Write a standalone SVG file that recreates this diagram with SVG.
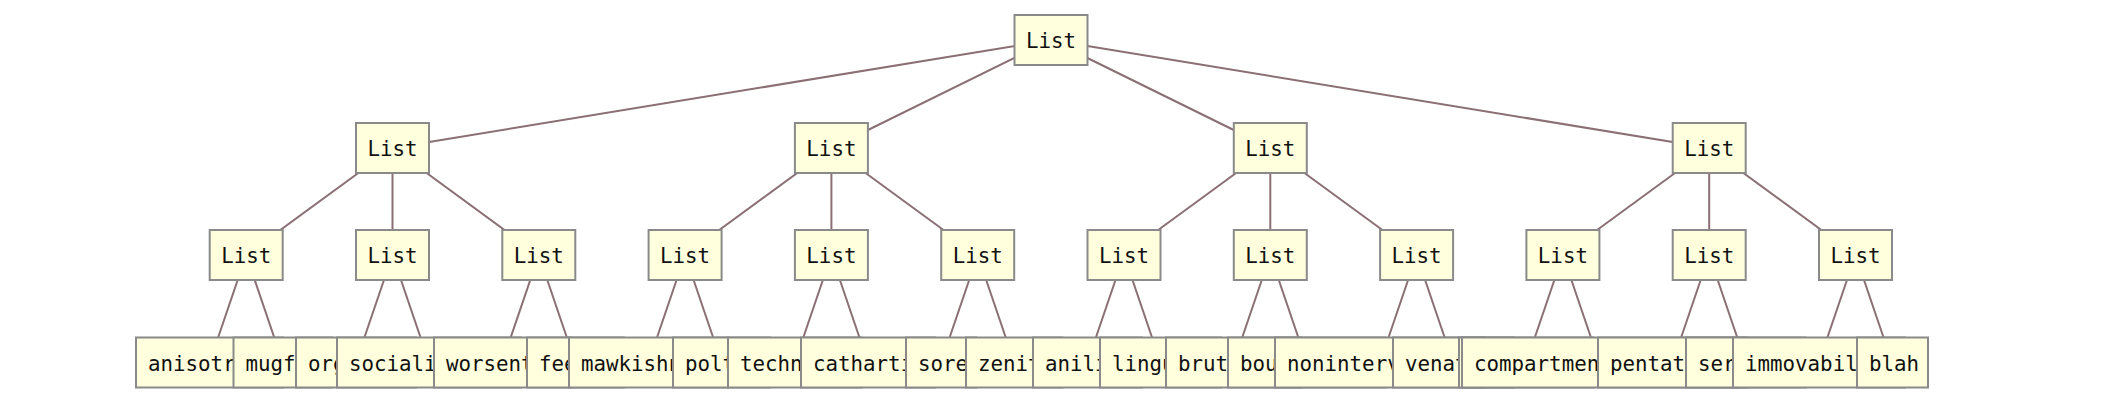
<svg xmlns="http://www.w3.org/2000/svg" width="2106" height="404" viewBox="0 0 2106 404">
<style>
.n rect{fill:#ffffdd;stroke:#8a8a8a;stroke-width:2}
.n text{font-family:"DejaVu Sans Mono","Liberation Mono",monospace;font-size:20.8px;fill:#111}
.c{text-anchor:middle}
#edges line{stroke:#8a6f74;stroke-width:2}
</style>
<rect width="2106" height="404" fill="#ffffff"/>
<g id="edges">
<line x1="1050.85" y1="40" x2="392.5" y2="148"/>
<line x1="1050.85" y1="40" x2="831.4" y2="148"/>
<line x1="1050.85" y1="40" x2="1270.3" y2="148"/>
<line x1="1050.85" y1="40" x2="1709.2" y2="148"/>
<line x1="392.5" y1="148" x2="246.2" y2="255"/>
<line x1="392.5" y1="148" x2="392.5" y2="255"/>
<line x1="392.5" y1="148" x2="538.8" y2="255"/>
<line x1="831.4" y1="148" x2="685.1" y2="255"/>
<line x1="831.4" y1="148" x2="831.4" y2="255"/>
<line x1="831.4" y1="148" x2="977.7" y2="255"/>
<line x1="1270.3" y1="148" x2="1124" y2="255"/>
<line x1="1270.3" y1="148" x2="1270.3" y2="255"/>
<line x1="1270.3" y1="148" x2="1416.6" y2="255"/>
<line x1="1709.2" y1="148" x2="1562.9" y2="255"/>
<line x1="1709.2" y1="148" x2="1709.2" y2="255"/>
<line x1="1709.2" y1="148" x2="1855.5" y2="255"/>
<line x1="246.2" y1="255" x2="209.6" y2="362.5"/>
<line x1="246.2" y1="255" x2="282.75" y2="362.5"/>
<line x1="392.5" y1="255" x2="355.9" y2="362.5"/>
<line x1="392.5" y1="255" x2="429.05" y2="362.5"/>
<line x1="538.8" y1="255" x2="502.2" y2="362.5"/>
<line x1="538.8" y1="255" x2="575.35" y2="362.5"/>
<line x1="685.1" y1="255" x2="648.5" y2="362.5"/>
<line x1="685.1" y1="255" x2="721.65" y2="362.5"/>
<line x1="831.4" y1="255" x2="794.8" y2="362.5"/>
<line x1="831.4" y1="255" x2="867.95" y2="362.5"/>
<line x1="977.7" y1="255" x2="941.1" y2="362.5"/>
<line x1="977.7" y1="255" x2="1014.25" y2="362.5"/>
<line x1="1124" y1="255" x2="1087.4" y2="362.5"/>
<line x1="1124" y1="255" x2="1160.55" y2="362.5"/>
<line x1="1270.3" y1="255" x2="1233.7" y2="362.5"/>
<line x1="1270.3" y1="255" x2="1306.85" y2="362.5"/>
<line x1="1416.6" y1="255" x2="1380" y2="362.5"/>
<line x1="1416.6" y1="255" x2="1453.15" y2="362.5"/>
<line x1="1562.9" y1="255" x2="1526.3" y2="362.5"/>
<line x1="1562.9" y1="255" x2="1599.45" y2="362.5"/>
<line x1="1709.2" y1="255" x2="1672.6" y2="362.5"/>
<line x1="1709.2" y1="255" x2="1745.75" y2="362.5"/>
<line x1="1855.5" y1="255" x2="1818.9" y2="362.5"/>
<line x1="1855.5" y1="255" x2="1892.05" y2="362.5"/>
</g>
<g id="root" class="n"><rect x="1014.5" y="15" width="73" height="50"/><text class="c" x="1051" y="48">List</text></g>
<g id="l2-0" class="n"><rect x="356" y="123" width="73" height="50"/><text class="c" x="392.5" y="156">List</text></g>
<g id="l2-1" class="n"><rect x="794.9" y="123" width="73" height="50"/><text class="c" x="831.4" y="156">List</text></g>
<g id="l2-2" class="n"><rect x="1233.8" y="123" width="73" height="50"/><text class="c" x="1270.3" y="156">List</text></g>
<g id="l2-3" class="n"><rect x="1672.7" y="123" width="73" height="50"/><text class="c" x="1709.2" y="156">List</text></g>
<g id="l3-0" class="n"><rect x="209.7" y="230" width="73" height="50"/><text class="c" x="246.2" y="263">List</text></g>
<g id="l3-1" class="n"><rect x="356" y="230" width="73" height="50"/><text class="c" x="392.5" y="263">List</text></g>
<g id="l3-2" class="n"><rect x="502.3" y="230" width="73" height="50"/><text class="c" x="538.8" y="263">List</text></g>
<g id="l3-3" class="n"><rect x="648.6" y="230" width="73" height="50"/><text class="c" x="685.1" y="263">List</text></g>
<g id="l3-4" class="n"><rect x="794.9" y="230" width="73" height="50"/><text class="c" x="831.4" y="263">List</text></g>
<g id="l3-5" class="n"><rect x="941.2" y="230" width="73" height="50"/><text class="c" x="977.7" y="263">List</text></g>
<g id="l3-6" class="n"><rect x="1087.5" y="230" width="73" height="50"/><text class="c" x="1124" y="263">List</text></g>
<g id="l3-7" class="n"><rect x="1233.8" y="230" width="73" height="50"/><text class="c" x="1270.3" y="263">List</text></g>
<g id="l3-8" class="n"><rect x="1380.1" y="230" width="73" height="50"/><text class="c" x="1416.6" y="263">List</text></g>
<g id="l3-9" class="n"><rect x="1526.4" y="230" width="73" height="50"/><text class="c" x="1562.9" y="263">List</text></g>
<g id="l3-10" class="n"><rect x="1672.7" y="230" width="73" height="50"/><text class="c" x="1709.2" y="263">List</text></g>
<g id="l3-11" class="n"><rect x="1819" y="230" width="73" height="50"/><text class="c" x="1855.5" y="263">List</text></g>
<g id="leaf-0" class="n"><rect x="136" y="337.5" width="147.2" height="50"/><text x="148" y="370.5">anisotr</text></g>
<g id="leaf-1" class="n"><rect x="233.5" y="337.5" width="98.5" height="50"/><text x="245.5" y="370.5">mugf</text></g>
<g id="leaf-2" class="n"><rect x="296" y="337.5" width="119.8" height="50"/><text x="308" y="370.5">org</text></g>
<g id="leaf-3" class="n"><rect x="337" y="337.5" width="184.1" height="50"/><text x="349" y="370.5">sociali</text></g>
<g id="leaf-4" class="n"><rect x="434" y="337.5" width="136.4" height="50"/><text x="446" y="370.5">worsent</text></g>
<g id="leaf-5" class="n"><rect x="527" y="337.5" width="96.7" height="50"/><text x="539" y="370.5">fee</text></g>
<g id="leaf-6" class="n"><rect x="569" y="337.5" width="159" height="50"/><text x="581" y="370.5">mawkishn</text></g>
<g id="leaf-7" class="n"><rect x="673" y="337.5" width="97.3" height="50"/><text x="685" y="370.5">polt</text></g>
<g id="leaf-8" class="n"><rect x="728" y="337.5" width="133.6" height="50"/><text x="740" y="370.5">techn</text></g>
<g id="leaf-9" class="n"><rect x="801" y="337.5" width="133.9" height="50"/><text x="813" y="370.5">catharti</text></g>
<g id="leaf-10" class="n"><rect x="906" y="337.5" width="70.2" height="50"/><text x="918" y="370.5">sore</text></g>
<g id="leaf-11" class="n"><rect x="966" y="337.5" width="96.5" height="50"/><text x="978" y="370.5">zenit</text></g>
<g id="leaf-12" class="n"><rect x="1033" y="337.5" width="108.8" height="50"/><text x="1045" y="370.5">anili</text></g>
<g id="leaf-13" class="n"><rect x="1100" y="337.5" width="121.1" height="50"/><text x="1112" y="370.5">lingu</text></g>
<g id="leaf-14" class="n"><rect x="1166" y="337.5" width="135.4" height="50"/><text x="1178" y="370.5">brut</text></g>
<g id="leaf-15" class="n"><rect x="1228" y="337.5" width="157.7" height="50"/><text x="1240" y="370.5">bou</text></g>
<g id="leaf-16" class="n"><rect x="1275" y="337.5" width="210" height="50"/><text x="1287" y="370.5">noninterv</text></g>
<g id="leaf-17" class="n"><rect x="1393" y="337.5" width="120.3" height="50"/><text x="1405" y="370.5">venat</text></g>
<g id="leaf-18" class="n"><rect x="1459" y="337.5" width="134.6" height="50"/></g>
<g id="leaf-19" class="n"><rect x="1462" y="337.5" width="274.9" height="50"/><text x="1474" y="370.5">compartmen</text></g>
<g id="leaf-20" class="n"><rect x="1598" y="337.5" width="149.2" height="50"/><text x="1610" y="370.5">pentat</text></g>
<g id="leaf-21" class="n"><rect x="1686" y="337.5" width="119.5" height="50"/><text x="1698" y="370.5">ser</text></g>
<g id="leaf-22" class="n"><rect x="1733" y="337.5" width="171.8" height="50"/><text x="1745" y="370.5">immovabil</text></g>
<g id="leaf-23" class="n"><rect x="1857" y="337.5" width="71" height="50"/><text x="1869" y="370.5">blah</text></g>
</svg>
